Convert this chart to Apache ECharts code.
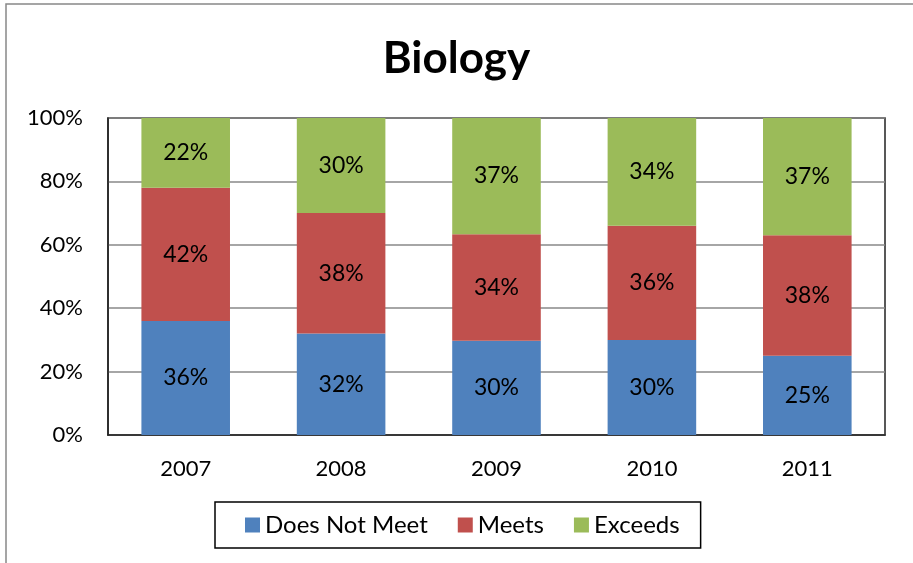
<!DOCTYPE html>
<html><head><meta charset="utf-8">
<script src="https://cdn.jsdelivr.net/npm/echarts@6/dist/echarts.min.js"></script>
<style>html,body{margin:0;padding:0;background:#fff}#c{width:913px;height:563px}</style>
</head><body><div id="c"></div>
<script>
const categories = ['2007','2008','2009','2010','2011'];
const doesNotMeet = [36, 32, 30, 30, 25];
const meets = [42, 38, 34, 36, 38];
const exceeds = [22, 30, 37, 34, 37];
const seriesNames = ['Does Not Meet','Meets','Exceeds'];
const colors = ['#4F81BD','#C0504D','#9BBB59'];

const totals = categories.map((_, i) => doesNotMeet[i] + meets[i] + exceeds[i]);
const share = arr => arr.map((v, i) => ({ value: v / totals[i] * 100, raw: v }));
const font = 'Lato, "Open Sans", sans-serif';

const chart = echarts.init(document.getElementById('c'));
chart.setOption({
  animation: false,
  textStyle: { fontFamily: font },
  graphic: [{ type: 'rect', shape: { x: 6, y: 4, width: 920, height: 580 }, style: { fill: 'none', stroke: '#888', lineWidth: 1.5 }, silent: true }],
  title: { text: 'Biology', left: 'center', top: 32, textStyle: { fontSize: 44, fontWeight: 'bold', color: '#000', fontFamily: font } },
  grid: { left: 108, right: 28, top: 118, bottom: 128, show: true, borderColor: '#222', borderWidth: 1.5 },
  legend: {
    data: seriesNames, left: 215, top: 502,
    borderColor: '#000', borderWidth: 1.5, padding: [11, 21, 11, 30],
    itemWidth: 15, itemHeight: 15, itemGap: 30, icon: 'rect',
    textStyle: { fontSize: 24, color: '#000', fontFamily: font }
  },
  xAxis: {
    type: 'category', data: categories,
    axisLine: { lineStyle: { color: '#222', width: 1.5 } }, axisTick: { show: false },
    axisLabel: { fontSize: 22, color: '#000', margin: 23 }
  },
  yAxis: {
    type: 'value', min: 0, max: 100, interval: 20,
    axisLine: { show: true, lineStyle: { color: '#222', width: 1.5 } }, axisTick: { show: false },
    splitLine: { lineStyle: { color: '#888', width: 1.5 } },
    axisLabel: { fontSize: 22, color: '#000', margin: 25, formatter: '{value}%' }
  },
  series: [doesNotMeet, meets, exceeds].map((arr, k) => ({
    name: seriesNames[k], type: 'bar', stack: 'all', barWidth: '57%',
    itemStyle: { color: colors[k] },
    label: { show: true, position: 'inside', fontSize: 23, color: '#000', fontFamily: font, formatter: p => p.data.raw + '%' },
    data: share(arr)
  }))
});
</script></body></html>
